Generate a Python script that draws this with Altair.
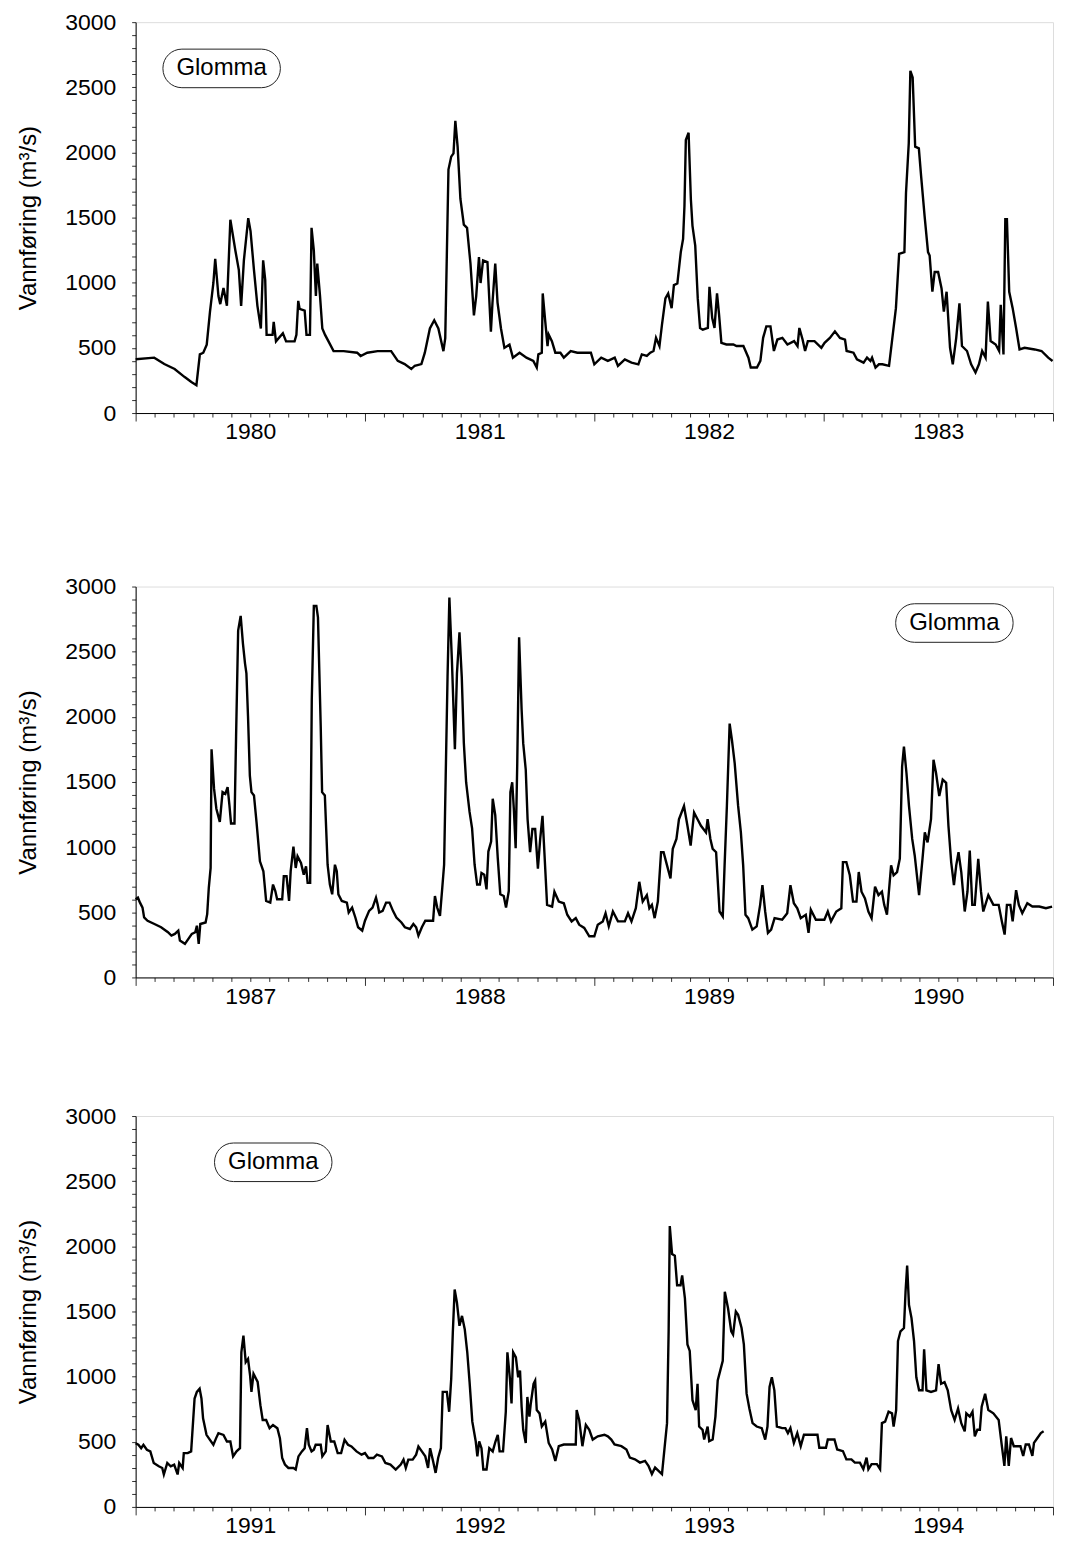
import altair as alt
import pandas as pd

FONT = "Liberation Sans"
Y_TITLE = "Vannføring (m³/s)"

# ---------------- Panel 1 : 1980-1983 (time = years after 1 Jan 1980) ----------------
P1_START = 1980
P1_T = [0.000, 0.081, 0.125, 0.170, 0.214, 0.243, 0.265, 0.280, 0.295, 0.310, 0.324, 0.339,
        0.347, 0.361, 0.369, 0.383, 0.398, 0.413, 0.435, 0.450, 0.460, 0.472, 0.491, 0.501,
        0.516, 0.531, 0.546, 0.556, 0.565, 0.571, 0.597, 0.602, 0.612, 0.642, 0.656, 0.693,
        0.701, 0.709, 0.715, 0.737, 0.745, 0.760, 0.767, 0.777, 0.786, 0.792, 0.804, 0.814,
        0.826, 0.841, 0.863, 0.907, 0.966, 0.981, 1.010, 1.055, 1.114, 1.143, 1.173, 1.202,
        1.217, 1.246, 1.261, 1.283, 1.302, 1.320, 1.342, 1.350, 1.364, 1.376, 1.386, 1.394,
        1.404, 1.416, 1.431, 1.445, 1.460, 1.475, 1.485, 1.497, 1.504, 1.515, 1.534, 1.549,
        1.556, 1.568, 1.578, 1.593, 1.608, 1.630, 1.645, 1.674, 1.704,
        1.734, 1.749, 1.756, 1.771, 1.775, 1.786, 1.796, 1.801, 1.815, 1.830, 1.852, 1.867,
        1.897, 1.926, 1.985, 2.000, 2.030, 2.059, 2.089, 2.103, 2.133, 2.162, 2.192, 2.207,
        2.229, 2.244, 2.258, 2.269, 2.284, 2.295, 2.310, 2.322, 2.337, 2.347, 2.362, 2.377,
        2.387, 2.393, 2.399, 2.411, 2.421, 2.428, 2.440, 2.451, 2.461, 2.473, 2.495, 2.502,
        2.514, 2.524, 2.535, 2.544, 2.554, 2.576, 2.606, 2.620, 2.650, 2.672, 2.682, 2.709,
        2.724, 2.736, 2.750, 2.768, 2.783, 2.798, 2.820, 2.842, 2.871, 2.886, 2.894, 2.908,
        2.919, 2.931, 2.960, 2.990, 3.004, 3.027, 3.049, 3.071, 3.093, 3.100, 3.130, 3.145,
        3.174, 3.189, 3.204, 3.211, 3.226, 3.241, 3.256, 3.285, 3.297, 3.315, 3.329, 3.352,
        3.359, 3.371, 3.378, 3.388, 3.399, 3.415, 3.425, 3.440, 3.455, 3.462, 3.474, 3.484,
        3.499, 3.514, 3.524, 3.536, 3.551, 3.563, 3.578, 3.592, 3.603, 3.625, 3.643, 3.662,
        3.677, 3.691, 3.706, 3.716, 3.728, 3.750, 3.765, 3.772, 3.784, 3.792, 3.799, 3.809,
        3.824, 3.839, 3.854, 3.876, 3.920, 3.950, 3.979, 3.998]
P1_Q = [413, 425, 376, 338, 276, 239, 214, 450, 463, 525, 774, 998,
        1184, 898, 836, 960, 823, 1483, 1246, 1097, 823, 1172, 1495, 1396,
        1097, 823, 649, 1172, 1023, 600, 600, 699, 550, 612, 550, 550,
        600, 861, 799, 786, 600, 600, 1421, 1246, 898, 1147, 898, 649,
        600, 550, 475, 475, 463, 438, 463, 475, 475, 400, 376, 338,
        363, 376, 463, 649, 712, 649, 475, 575, 1869, 1968, 1993, 2242,
        2043, 1645, 1446, 1421, 1147, 749, 898, 1197, 998, 1172, 1159, 624,
        848, 1147, 848, 649, 500, 525, 425, 463, 425,
        400, 349, 450, 463, 918, 703, 514, 602, 552, 463, 463, 425,
        476, 463, 463, 374, 425, 400, 425, 362, 412, 387, 374, 450,
        438, 463, 476, 577, 514, 678, 880, 918, 805, 982, 994, 1235,
        1336, 1589, 2095, 2151, 1639, 1437, 1285, 880, 653, 640, 653, 969,
        729, 653, 918, 754, 539, 526, 526, 514, 514, 425, 349, 349,
        400, 577, 665, 665, 476, 564, 577, 526, 552, 514, 653, 564,
        476, 552, 552, 501, 539, 577, 627, 577, 564, 476, 463, 412,
        387, 425, 400, 425, 349, 374, 374, 362, 539, 805, 1222, 1235,
        1690, 2070, 2626, 2576, 2044, 2032, 1817, 1513, 1235, 1209, 931, 1083,
        1083, 956, 779, 931, 501, 374, 577, 842, 514, 476, 374, 311,
        374, 476, 425, 855, 552, 526, 476, 830, 450, 1488, 1488, 931,
        805, 653, 488, 501, 488, 476, 425, 400]

# ---------------- Panel 2 : 1987-1990 (years after 1 Jan 1987) ----------------
P2_START = 1987
P2_T = [0.000, 0.010, 0.019, 0.030, 0.037, 0.052, 0.082, 0.111, 0.141, 0.156, 0.171, 0.186,
        0.193, 0.215, 0.230, 0.245, 0.260, 0.267, 0.275, 0.282, 0.305, 0.312, 0.319, 0.327,
        0.331, 0.342, 0.352, 0.367, 0.379, 0.391, 0.401, 0.409, 0.416, 0.431, 0.438, 0.447,
        0.458, 0.468, 0.477, 0.483, 0.490, 0.498, 0.505, 0.516, 0.527, 0.542, 0.557, 0.569,
        0.587, 0.599, 0.609, 0.617, 0.639, 0.646, 0.658, 0.669, 0.676, 0.688, 0.698, 0.706,
        0.721, 0.733, 0.743, 0.750, 0.761, 0.768, 0.777, 0.788, 0.795, 0.807, 0.813, 0.825,
        0.837, 0.847, 0.857, 0.869, 0.877, 0.884, 0.899, 0.921, 0.929, 0.944, 0.958, 0.970,
        0.988, 1.000, 1.018, 1.033, 1.048, 1.055, 1.062, 1.077, 1.092, 1.107, 1.122, 1.137,
        1.159, 1.174, 1.196, 1.211, 1.223, 1.233, 1.248, 1.263, 1.297, 1.305, 1.315, 1.327,
        1.337, 1.345, 1.352, 1.360, 1.368, 1.379, 1.392, 1.401, 1.412, 1.422, 1.431, 1.441,
        1.456, 1.467, 1.478, 1.489, 1.501, 1.508, 1.520, 1.530, 1.538, 1.550, 1.557, 1.568,
        1.579, 1.590, 1.605, 1.615, 1.627, 1.634, 1.642, 1.649, 1.657, 1.664, 1.672, 1.683,
        1.690, 1.701, 1.709, 1.720, 1.730, 1.742, 1.754, 1.764, 1.774, 1.783, 1.794, 1.816,
        1.826, 1.845, 1.867, 1.882, 1.901, 1.919, 1.934, 1.956, 1.978, 2.000, 2.015, 2.037,
        2.049, 2.063, 2.081, 2.103, 2.133, 2.147, 2.162, 2.181, 2.196, 2.211, 2.229, 2.240,
        2.251, 2.263, 2.277, 2.291, 2.302, 2.317, 2.332, 2.342, 2.358, 2.369, 2.391, 2.406,
        2.420, 2.435, 2.450, 2.465, 2.487, 2.494, 2.506, 2.516, 2.531, 2.546, 2.560, 2.568,
        2.578, 2.590, 2.600, 2.612, 2.627, 2.639, 2.649, 2.659, 2.671, 2.689, 2.708, 2.723,
        2.733, 2.745, 2.757, 2.771, 2.786, 2.819, 2.841, 2.855, 2.870, 2.885, 2.900, 2.922,
        2.934, 2.944, 2.966, 3.003, 3.018, 3.032, 3.055, 3.077, 3.084, 3.099, 3.114, 3.128,
        3.143, 3.153, 3.165, 3.180, 3.195, 3.209, 3.224, 3.239, 3.254, 3.264, 3.276, 3.294,
        3.305, 3.320, 3.332, 3.342, 3.350, 3.361, 3.372, 3.386, 3.397, 3.416, 3.431, 3.441,
        3.453, 3.468, 3.479, 3.490, 3.504, 3.519, 3.534, 3.544, 3.556, 3.568, 3.578, 3.588,
        3.600, 3.615, 3.627, 3.637, 3.648, 3.659, 3.674, 3.686, 3.696, 3.718, 3.740, 3.763,
        3.777, 3.789, 3.799, 3.814, 3.824, 3.839, 3.851, 3.866, 3.888, 3.910, 3.940, 3.969,
        3.996]
P2_Q = [600, 612, 574, 536, 460, 435, 410, 385, 347, 321, 334, 359,
        283, 258, 296, 334, 347, 397, 258, 410, 422, 486, 688, 840,
        1751, 1447, 1295, 1194, 1422, 1409, 1460, 1321, 1181, 1181, 1852, 2662,
        2775, 2560, 2409, 2333, 2004, 1548, 1422, 1397, 1194, 891, 815, 587,
        574, 713, 663, 600, 600, 777, 777, 587, 815, 1004, 840, 929,
        878, 789, 853, 726, 726, 2130, 2851, 2851, 2763, 1928, 1422, 1397,
        865, 713, 638, 865, 815, 638, 587, 574, 498, 536, 460, 385,
        359, 435, 511, 536, 612, 562, 498, 511, 574, 574, 511, 460,
        422, 385, 372, 410, 385, 321, 385, 435, 435, 625, 536, 473,
        688, 865, 1548, 2307, 2915, 2434, 1751, 2333, 2649, 2307, 1801, 1498,
        1270, 1144, 865, 713, 713, 802, 789, 676, 966, 1042, 1371, 1245,
        916, 638, 625, 536, 663, 1422, 1498, 1295, 992, 1650, 2611, 2054,
        1796, 1594, 1214, 961, 1139, 1139, 835, 1063, 1240, 936, 557, 544,
        658, 582, 569, 481, 430, 455, 405, 380, 316, 316, 405, 430,
        493, 392, 506, 430, 430, 493, 430, 531, 734, 582, 632, 531,
        557, 455, 582, 961, 961, 860, 759, 987, 1063, 1214, 1316, 1164,
        1012, 1265, 1214, 1164, 1113, 1214, 1063, 987, 961, 506, 468, 860,
        1316, 1948, 1822, 1645, 1316, 1113, 860, 481, 455, 367, 392, 557,
        708, 506, 342, 367, 455, 443, 493, 708, 569, 531, 455, 481,
        342, 519, 443, 443, 506, 430, 506, 531, 885, 885, 784, 582,
        582, 809, 658, 607, 506, 455, 696, 632, 658, 557, 481, 860,
        784, 809, 911, 1619, 1771, 1569, 1316, 1063, 936, 632, 911, 1113,
        1037, 1214, 1670, 1569, 1392, 1518, 1493, 1164, 885, 708, 860, 961,
        809, 506, 658, 974, 557, 557, 911, 658, 506, 632, 557, 557,
        430, 329, 557, 557, 430, 670, 557, 493, 569, 544, 544, 531,
        544]

# ---------------- Panel 3 : 1991-1994 (years after 1 Jan 1991) ----------------
P3_START = 1991
P3_T = [0.000, 0.012, 0.024, 0.034, 0.049, 0.064, 0.079, 0.101, 0.116, 0.123, 0.138, 0.153,
        0.168, 0.183, 0.190, 0.205, 0.210, 0.227, 0.242, 0.257, 0.267, 0.279, 0.287, 0.294,
        0.309, 0.324, 0.339, 0.351, 0.361, 0.383, 0.398, 0.413, 0.425, 0.440, 0.455, 0.461,
        0.470, 0.480, 0.490, 0.499, 0.505, 0.514, 0.525, 0.532, 0.544, 0.554, 0.569, 0.584,
        0.599, 0.618, 0.629, 0.639, 0.651, 0.666, 0.688, 0.698, 0.710, 0.725, 0.737, 0.747,
        0.755, 0.767, 0.777, 0.785, 0.807, 0.814, 0.829, 0.837, 0.851, 0.866, 0.881, 0.896,
        0.911, 0.926, 0.941, 0.963, 0.985, 1.000, 1.015, 1.037, 1.052, 1.074, 1.089, 1.111,
        1.134, 1.156, 1.168, 1.178, 1.189, 1.208, 1.223, 1.233, 1.248, 1.263, 1.275, 1.284,
        1.297, 1.308, 1.319, 1.331, 1.339, 1.357, 1.367, 1.376, 1.383, 1.391, 1.401, 1.412,
        1.423, 1.435, 1.446, 1.456, 1.468, 1.483, 1.490, 1.498, 1.508, 1.516, 1.530, 1.542,
        1.557, 1.569, 1.579, 1.587, 1.602, 1.614, 1.621, 1.632, 1.639, 1.646, 1.658, 1.668,
        1.676, 1.683, 1.690, 1.701, 1.708, 1.717, 1.723, 1.735, 1.742, 1.749, 1.761, 1.771,
        1.786, 1.801, 1.816, 1.830, 1.845, 1.867, 1.919, 1.923, 1.934, 1.948, 1.963, 1.978,
        1.993, 2.015, 2.044, 2.059, 2.074, 2.088, 2.118, 2.140, 2.155, 2.177, 2.199, 2.221,
        2.236, 2.251, 2.265, 2.280, 2.295, 2.307, 2.317, 2.324, 2.329, 2.339, 2.351, 2.361,
        2.376, 2.383, 2.395, 2.406, 2.416, 2.428, 2.442, 2.450, 2.457, 2.472, 2.479, 2.494,
        2.501, 2.516, 2.528, 2.538, 2.549, 2.560, 2.569, 2.583, 2.597, 2.605, 2.617, 2.627,
        2.642, 2.652, 2.664, 2.676, 2.690, 2.708, 2.730, 2.745, 2.755, 2.764, 2.774, 2.785,
        2.796, 2.819, 2.833, 2.844, 2.855, 2.870, 2.885, 2.900, 2.914, 2.973, 2.981, 3.010,
        3.018, 3.047, 3.059, 3.084, 3.099, 3.121, 3.136, 3.158, 3.173, 3.187, 3.195, 3.209,
        3.232, 3.246, 3.254, 3.268, 3.283, 3.298, 3.305, 3.316, 3.324, 3.335, 3.350, 3.357,
        3.364, 3.372, 3.383, 3.394, 3.404, 3.416, 3.431, 3.438, 3.448, 3.468, 3.490, 3.501,
        3.512, 3.527, 3.541, 3.556, 3.571, 3.586, 3.600, 3.615, 3.622, 3.637, 3.649, 3.659,
        3.670, 3.681, 3.689, 3.704, 3.718, 3.740, 3.763, 3.777, 3.788, 3.796, 3.807, 3.817,
        3.829, 3.858, 3.870, 3.881, 3.895, 3.910, 3.917, 3.932, 3.947, 3.959]
P3_Q = [489, 477, 451, 477, 439, 426, 337, 312, 299, 249, 337, 312,
        325, 249, 337, 299, 413, 413, 426, 832, 883, 908, 832, 680,
        553, 515, 477, 528, 566, 553, 502, 502, 388, 426, 451, 1187,
        1314, 1111, 1136, 1009, 883, 1022, 984, 959, 781, 667, 667, 604,
        629, 604, 528, 375, 325, 299, 299, 287, 388, 426, 451, 604,
        477, 426, 439, 477, 477, 388, 426, 629, 502, 502, 413, 413,
        515, 477, 464, 426, 401, 413, 375, 375, 401, 388, 337, 325,
        287, 325, 363, 299, 363, 363, 401, 464, 426, 388, 299, 451,
        350, 261, 375, 451, 883, 883, 730, 984, 1339, 1669, 1567, 1390,
        1466, 1364, 1187, 959, 654, 502, 388, 502, 451, 287, 287, 451,
        426, 502, 553, 426, 426, 730, 1187, 984, 794, 1187, 1147, 995,
        1046, 769, 592, 491, 844, 693, 794, 945, 970, 743, 718, 617,
        655, 491, 441, 353, 466, 479, 479, 743, 668, 466, 630, 592,
        517, 542, 554, 542, 517, 479, 466, 441, 378, 365, 340, 353,
        315, 252, 302, 277, 252, 466, 643, 1348, 2155, 1940, 1928, 1701,
        1701, 1777, 1600, 1247, 1197, 819, 743, 945, 617, 592, 517, 617,
        504, 517, 693, 970, 1046, 1121, 1651, 1525, 1348, 1323, 1500, 1474,
        1373, 1247, 869, 756, 643, 617, 605, 517, 617, 920, 995, 895,
        617, 605, 605, 567, 605, 491, 567, 466, 554, 554, 454, 454,
        517, 517, 441, 428, 365, 365, 340, 340, 290, 378, 290, 328,
        328, 290, 643, 655, 731, 718, 617, 743, 1273, 1348, 1373, 1651,
        1852, 1550, 1449, 1273, 995, 895, 895, 1210, 895, 882, 895, 1096,
        945, 958, 895, 743, 668, 756, 643, 580, 718, 693, 731, 542,
        592, 592, 769, 869, 743, 718, 668, 466, 315, 542, 315, 529,
        466, 466, 391, 479, 479, 391, 491, 529, 567, 580]

# "Glomma" labels (centre position in data units)
LABEL_TEXT = "Glomma"
LABEL_T = [1980.375, 1990.57, 1991.60]
LABEL_Q = [2645, 2720, 2645]

W = 920
H = 392


def panel(start, t_off, q, lab_t, lab_q):
    df = pd.DataFrame({"t": [start + v for v in t_off], "q": q})
    xs = alt.Scale(domain=[start, start + 4], nice=False, zero=False)
    ys = alt.Scale(domain=[0, 3000], nice=False)
    months = [start + k / 12 for k in range(49)]
    xaxis = alt.Axis(
        values=months,
        labelExpr="abs(datum.value - floor(datum.value) - 0.5) < 0.01 ? toString(floor(datum.value)) : ''",
        tickSize={"condition": {"test": "abs(datum.value - round(datum.value)) < 0.001", "value": 8}, "value": 4},
        grid=False, title=None, labelFont=FONT, labelFontSize=23, labelColor="black",
        labelPadding=4, labelFlush=False, labelOverlap=False, labelBound=False,
        domainColor="black", tickColor="#333", domainWidth=1, tickWidth=1,
    )
    yaxis = alt.Axis(
        values=list(range(0, 3001, 100)),
        labelExpr="datum.value % 500 == 0 ? toString(datum.value) : ''",
        grid=False, title=Y_TITLE, titleFont=FONT, titleFontSize=24, titleFontWeight="normal",
        titleColor="black", titlePadding=24,
        labelFont=FONT, labelFontSize=23, labelColor="black", labelPadding=16,
        labelFlush=False, labelOverlap=False, labelBound=False, tickSize=4,
        domainColor="black", tickColor="#333", domainWidth=1, tickWidth=1,
    )
    line = alt.Chart(df).mark_line(color="black", strokeWidth=2.4).encode(
        x=alt.X("t:Q", scale=xs, axis=xaxis),
        y=alt.Y("q:Q", scale=ys, axis=yaxis),
    )
    half_w = 0.256   # years  (~118 px)
    half_h = 148     # m3/s   (~38 px)
    lab = pd.DataFrame({
        "t": [lab_t], "q": [lab_q], "text": [LABEL_TEXT],
        "t1": [lab_t - half_w], "t2": [lab_t + half_w],
        "q1": [lab_q - half_h], "q2": [lab_q + half_h],
    })
    box = alt.Chart(lab).mark_rect(filled=False, color="#222", strokeWidth=1, cornerRadius=19).encode(
        x=alt.X("t1:Q", scale=xs, axis=xaxis), x2="t2:Q",
        y=alt.Y("q1:Q", scale=ys, axis=yaxis), y2="q2:Q",
    )
    txt = alt.Chart(lab).mark_text(font=FONT, fontSize=24, color="black",
                                   align="center", baseline="middle").encode(
        x=alt.X("t:Q", scale=xs, axis=xaxis), y=alt.Y("q:Q", scale=ys, axis=yaxis), text="text:N",
    )
    return alt.layer(line, box, txt).properties(width=W, height=H)


p1 = panel(P1_START, P1_T, P1_Q, LABEL_T[0], LABEL_Q[0])
p2 = panel(P2_START, P2_T, P2_Q, LABEL_T[1], LABEL_Q[1])
p3 = panel(P3_START, P3_T, P3_Q, LABEL_T[2], LABEL_Q[2])

top = alt.vconcat(p1, p2, spacing=126)
chart = alt.vconcat(top, p3, spacing=91).properties(
    padding={"left": 8, "top": 0, "right": 0, "bottom": 0}
).configure_view(stroke="#333", strokeWidth=1).configure_axis(
    labelOverlap=False, labelFlush=False
).configure(background="white")

chart.save("out.html", embed_options={"renderer": "svg", "actions": False})
